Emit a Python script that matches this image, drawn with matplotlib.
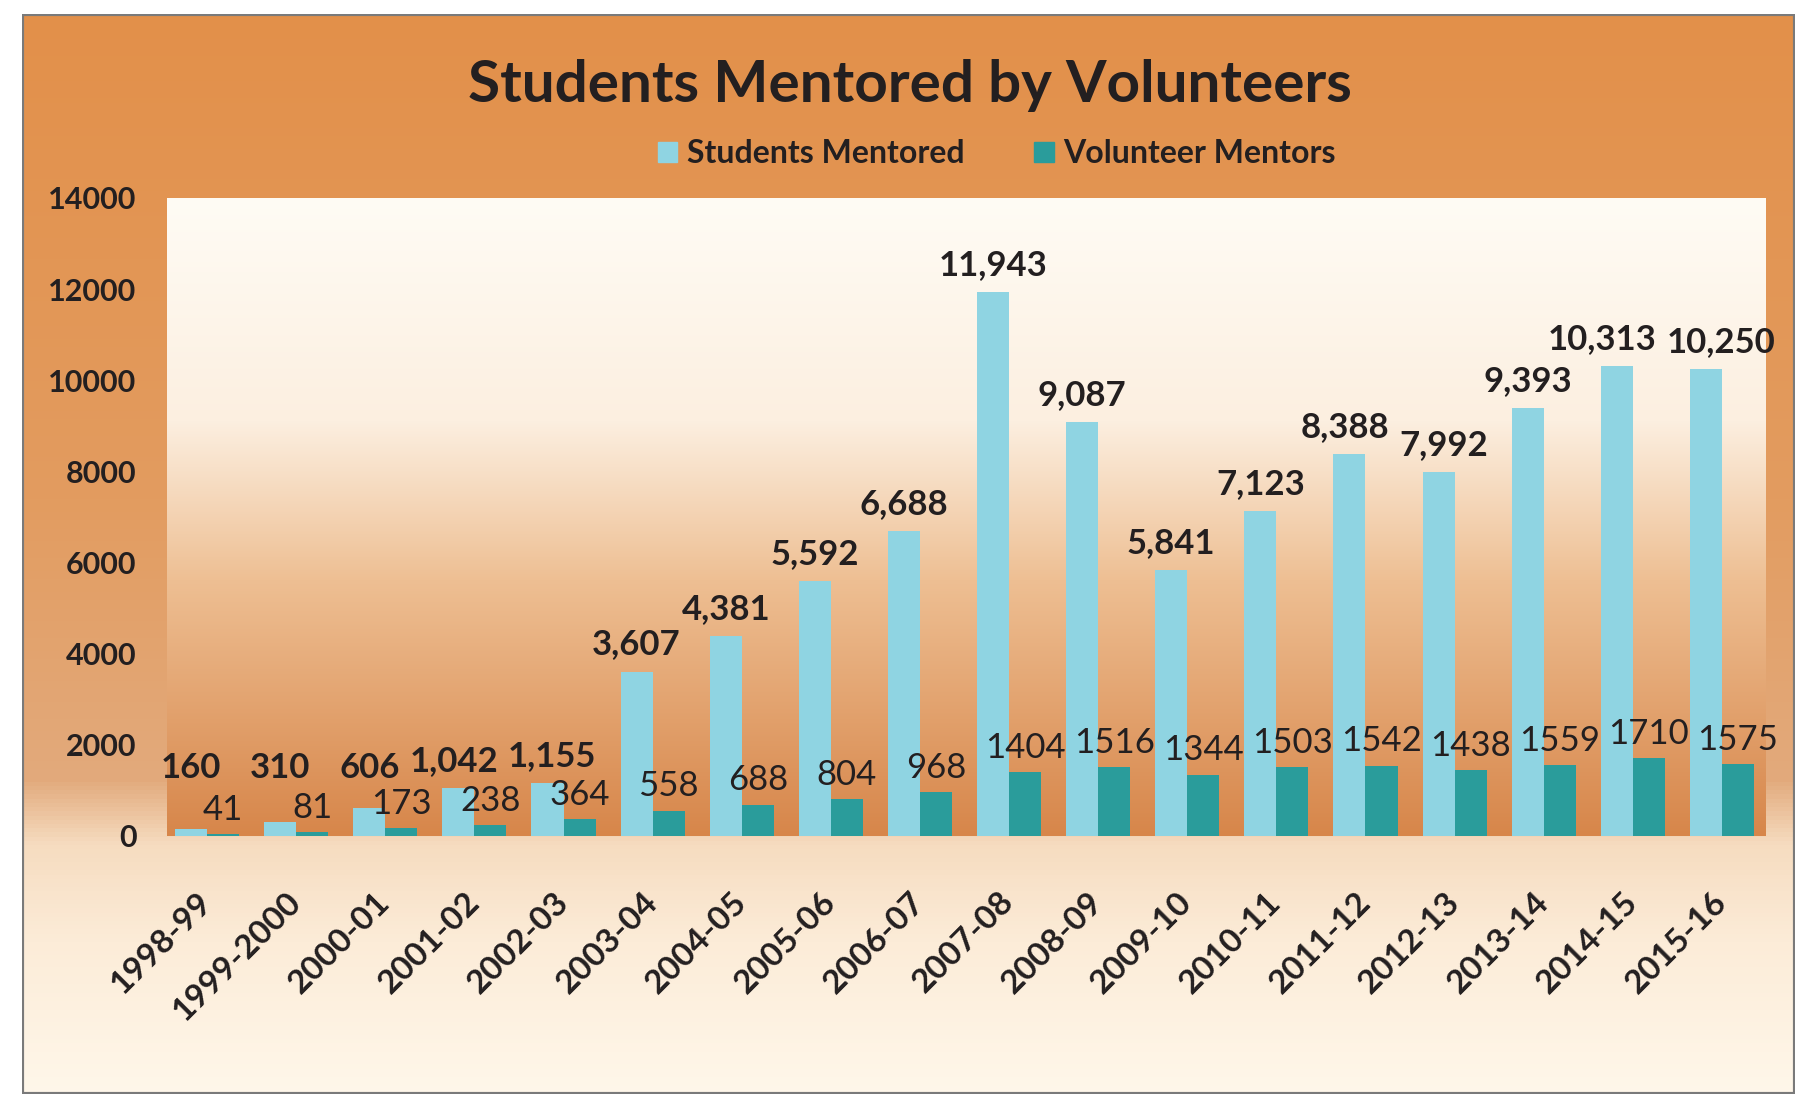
import numpy as np
import matplotlib.pyplot as plt
from matplotlib.colors import LinearSegmentedColormap
from matplotlib.patches import Rectangle, Patch
from matplotlib.transforms import ScaledTranslation

# data
years = ['1998-99', '1999-2000', '2000-01', '2001-02', '2002-03', '2003-04',
         '2004-05', '2005-06', '2006-07', '2007-08', '2008-09', '2009-10',
         '2010-11', '2011-12', '2012-13', '2013-14', '2014-15', '2015-16']
students = [160, 310, 606, 1042, 1155, 3607, 4381, 5592, 6688, 11943,
            9087, 5841, 7123, 8388, 7992, 9393, 10313, 10250]
mentors = [41, 81, 173, 238, 364, 558, 688, 804, 968, 1404,
           1516, 1344, 1503, 1542, 1438, 1559, 1710, 1575]
y_ticks = [0, 2000, 4000, 6000, 8000, 10000, 12000, 14000]

plt.rcParams['font.family'] = ['Lato', 'DejaVu Sans']
txt = '#231f20'
blue = '#8fd4e2'
teal = '#2a9c9b'

fig = plt.figure(figsize=(18.09, 11.04), dpi=100)
fig.patch.set_facecolor('white')

# outer chart background: orange at top fading to cream at the bottom
outer = LinearSegmentedColormap.from_list(
    'outer', [(0, '#e2904a'), (0.45, '#e39c60'), (0.71, '#e2aa7c'),
              (0.77, '#f6dcc0'), (0.86, '#fcecd8'), (1, '#fff7ea')])
grad = np.linspace(0, 1, 256).reshape(-1, 1)
bg = fig.add_axes([0.012, 0.009, 0.980, 0.978], zorder=-2)
bg.imshow(grad, cmap=outer, aspect='auto', extent=[0, 1, 0, 1])
bg.set_xlim(0, 1)
bg.set_ylim(0, 1)
bg.set_axis_off()
bg.add_patch(Rectangle((0, 0), 1, 1, transform=bg.transAxes, fill=False,
                       edgecolor='#7a7a7a', lw=3))

# plot area: pale at top, orange at the bottom
x = np.arange(len(years))
w = 0.36
xlim = (-0.45, len(years) - 0.51)
ax = fig.add_axes([0.0923, 0.2428, 0.8837, 0.5779])
inner = LinearSegmentedColormap.from_list(
    'inner', [(0, '#fffcf5'), (0.35, '#fcefe0'), (0.60, '#eebf93'),
              (1, '#d7864a')])
ax.imshow(grad, cmap=inner, aspect='auto',
          extent=[xlim[0], xlim[1], 0, 14000], zorder=0)

ax.bar(x - w / 2, students, w, color=blue, zorder=2)
ax.bar(x + w / 2, mentors, w, color=teal, zorder=2)

s_labels = []
for i, v in enumerate(students):
    a = ax.annotate(f'{v:,}', (x[i] - w / 2, max(v, 900)), xytext=(0, 8),
                    textcoords='offset points', ha='center', va='bottom',
                    fontsize=25, fontweight='bold', color=txt, zorder=3)
    s_labels.append(a)
for i, v in enumerate(mentors):
    ax.annotate(str(v), (x[i] + w / 2, v), xytext=(0, 6),
                textcoords='offset points', ha='center', va='bottom',
                fontsize=25, color=txt, zorder=3)

ax.set_xlim(*xlim)
ax.set_ylim(0, 14000)
ax.set_yticks(y_ticks)
ax.set_yticklabels([str(t) for t in y_ticks], fontsize=22,
                   fontweight='bold', color=txt)
ax.set_xticks(x)
ax.set_xticklabels(years, rotation=45, ha='right', va='center',
                   rotation_mode='anchor', fontsize=24, fontweight='bold',
                   color=txt)
shift_x = ScaledTranslation(3 / 72, 0, fig.dpi_scale_trans)
for lab in ax.get_xticklabels():
    lab.set_transform(lab.get_transform() + shift_x)
ax.tick_params(axis='y', length=0, pad=22)
ax.tick_params(axis='x', length=0, pad=44)
for s in ax.spines.values():
    s.set_visible(False)

fig.text(0.503, 0.923, 'Students Mentored by Volunteers', ha='center',
         va='center', fontsize=42, fontweight='bold', color=txt)

handles = [Patch(color=blue, label='Students Mentored'),
           Patch(color=teal, label='Volunteer Mentors')]
fig.legend(handles=handles, loc='center', bbox_to_anchor=(0.551, 0.861),
           ncol=2, frameon=False, handlelength=0.6, handleheight=0.6,
           handletextpad=0.3, columnspacing=2.2,
           prop={'size': 23, 'weight': 'bold'}, labelcolor=txt)

# push apart neighbouring value labels that collide, like Excel does
fig.canvas.draw()
r = fig.canvas.get_renderer()
for a, b in zip(s_labels[:-1], s_labels[1:]):
    ea, eb = a.get_window_extent(r), b.get_window_extent(r)
    over = ea.x1 - eb.x0 + 10
    if over > 0 and ea.y0 < eb.y1 and eb.y0 < ea.y1:
        shift = (over / 2) * 72 / fig.dpi
        a.xyann = (a.xyann[0] - shift, a.xyann[1])
        b.xyann = (b.xyann[0] + shift, b.xyann[1])

fig.savefig('out.png', dpi=100, facecolor=fig.get_facecolor())
